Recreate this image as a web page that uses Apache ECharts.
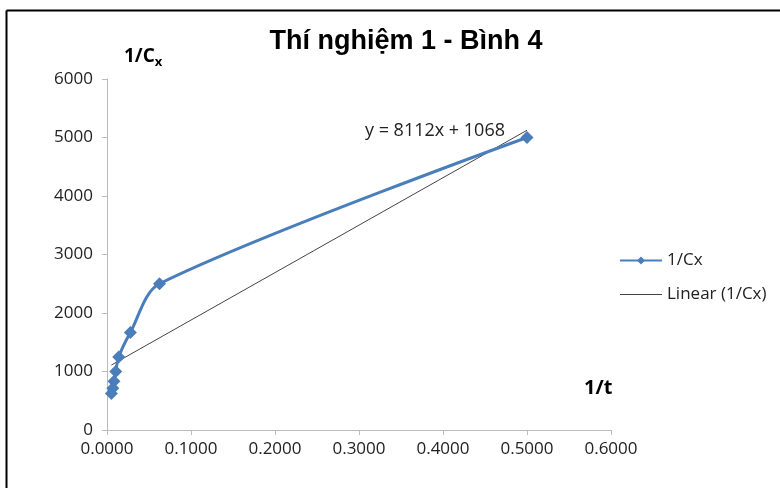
<!DOCTYPE html>
<html>
<head>
<meta charset="utf-8">
<script src="https://cdn.jsdelivr.net/npm/echarts@6/dist/echarts.min.js"></script>
<style>
  html, body { margin: 0; padding: 0; background: #fff; }
  #main { width: 780px; height: 488px; }
</style>
</head>
<body>
<div id="main"></div>
<script>
// data
var invT = [0.0052, 0.0069, 0.0083, 0.0104, 0.0139, 0.0278, 0.0625, 0.5];
var invC = [625, 714, 833, 1000, 1250, 1667, 2500, 5000];
var slope = 8112;
var intercept = 1068;
var xTicks = [0, 0.1, 0.2, 0.3, 0.4, 0.5, 0.6];
var yTicks = [0, 1000, 2000, 3000, 4000, 5000, 6000];

var chartDom = document.getElementById('main');
var myChart = echarts.init(chartDom);

var points = invT.map(function (x, i) { return [x, invC[i]]; });
var xMin = Math.min.apply(null, invT);
var xMax = Math.max.apply(null, invT);
var trend = [
  [xMin, slope * xMin + intercept],
  [xMax, slope * xMax + intercept]
];

var font = 'Open Sans, Arial, sans-serif';

var option = {
  animation: false,
  title: {
    text: 'Thí nghiệm 1 - Bình 4',
    left: 401,
    textAlign: 'center',
    top: 23,
    textStyle: {
      fontFamily: 'Liberation Sans, Arial, sans-serif',
      fontSize: 27,
      fontWeight: 'bold',
      color: '#000'
    }
  },
  graphic: [
    { type: 'line', shape: { x1: 6.5, y1: 10.5, x2: 780, y2: 10.5 }, style: { stroke: '#000', lineWidth: 2 } },
    { type: 'line', shape: { x1: 6.5, y1: 10.5, x2: 6.5, y2: 488 }, style: { stroke: '#000', lineWidth: 2 } },
    {
      type: 'text', left: 124, top: 47,
      style: {
        text: '{a|1/C}{b|x}',
        rich: {
          a: { fontFamily: font, fontSize: 19, fontWeight: 'bold', color: '#000' },
          b: { fontFamily: font, fontSize: 13, fontWeight: 'bold', color: '#000', padding: [12, 0, 0, 0] }
        }
      }
    },
    {
      type: 'text', left: 584, top: 378,
      style: { text: '1/t', fontFamily: font, fontSize: 20, fontWeight: 'bold', fill: '#000' }
    }
  ],
  legend: {
    orient: 'vertical',
    left: 614,
    top: 247,
    itemGap: 17,
    itemWidth: 42,
    itemHeight: 10,
    textStyle: { fontFamily: font, fontSize: 17, color: '#222' },
    data: [
      { name: '1/Cx', lineStyle: { width: 2 } },
      {
        name: 'Linear (1/Cx)',
        itemStyle: { color: 'rgba(0,0,0,0)', borderWidth: 0 },
        lineStyle: { color: '#444', width: 1 }
      }
    ]
  },
  grid: { left: 107, right: 169, top: 79, bottom: 58 },
  xAxis: {
    type: 'value',
    min: xTicks[0],
    max: xTicks[xTicks.length - 1],
    interval: 0.1,
    splitLine: { show: false },
    axisLine: { lineStyle: { color: '#bbb' } },
    axisTick: { show: true, length: 5, lineStyle: { color: '#bbb' } },
    axisLabel: {
      fontFamily: font, fontSize: 17, color: '#222', margin: 11,
      formatter: function (v) { return v.toFixed(4); }
    }
  },
  yAxis: {
    type: 'value',
    min: yTicks[0],
    max: yTicks[yTicks.length - 1],
    interval: 1000,
    splitLine: { show: false },
    axisLine: { show: true, lineStyle: { color: '#bbb' } },
    axisTick: { show: true, length: 5, lineStyle: { color: '#bbb' } },
    axisLabel: {
      fontFamily: font, fontSize: 17, color: '#222', margin: 14,
      formatter: function (v) { return String(v); }
    }
  },
  series: [
    {
      name: 'Linear (1/Cx)',
      type: 'line',
      data: trend,
      symbol: 'none',
      z: 3,
      lineStyle: { color: '#444', width: 1 },
      itemStyle: { color: '#444' },
      markPoint: {
        symbol: 'circle',
        symbolSize: 0,
        data: [{ coord: trend[1], value: 'y = ' + slope + 'x + ' + intercept }],
        label: {
          show: true,
          position: 'left',
          distance: 22,
          offset: [0, 1],
          fontFamily: font,
          fontSize: 18,
          color: '#222',
          formatter: function (p) { return p.value; }
        }
      }
    },
    {
      name: '1/Cx',
      type: 'line',
      data: points,
      smooth: 0.3,
      symbol: 'diamond',
      symbolSize: 13,
      z: 4,
      lineStyle: { color: '#4a7ebb', width: 3 },
      itemStyle: { color: '#4a7ebb' }
    }
  ]
};

myChart.setOption(option);
window.addEventListener('resize', function () { myChart.resize(); });
</script>
</body>
</html>
